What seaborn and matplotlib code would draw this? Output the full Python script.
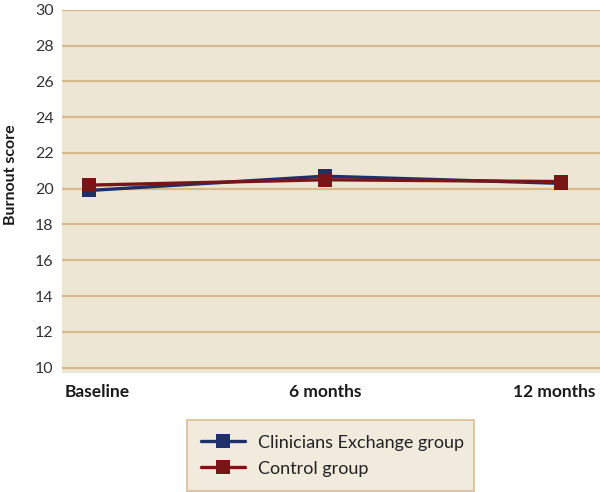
import pandas as pd
import matplotlib
matplotlib.use("Agg")
import matplotlib.pyplot as plt
import matplotlib.transforms as mtransforms
import seaborn as sns

# Values
timepoints = ["Baseline", "6 months", "12 months"]
clinicians_exchange = [19.9, 20.7, 20.3]
control = [20.2, 20.5, 20.4]
groups = ["Clinicians Exchange group", "Control group"]
y_ticks = list(range(10, 31, 2))

df = pd.DataFrame({
    "time": timepoints * 2,
    "score": clinicians_exchange + control,
    "group": [groups[0]] * 3 + [groups[1]] * 3,
})

sns.set_theme(style="white")
plt.rcParams["font.family"] = ["Lato", "DejaVu Sans"]

bg = "#ede6d4"
grid_col = "#dab98b"
palette = {groups[0]: "#1f2f6e", groups[1]: "#7a1517"}

fig = plt.figure(figsize=(6, 4.92), dpi=100)
ax = fig.add_axes([0.103, 0.242, 0.897, 0.738])
ax.set_facecolor(bg)

sns.lineplot(data=df, x="time", y="score", hue="group", hue_order=groups,
             palette=palette, marker="s", markersize=10, markeredgewidth=0,
             linewidth=2.4, sort=False, ax=ax, legend=False)

ax.set_ylim(9.7, 30)
ax.set_xlim(-0.115, 2.165)
ax.set_yticks(y_ticks)
for y in y_ticks:
    ax.axhline(y, color=grid_col, linewidth=1.6, zorder=0)
for s in ax.spines.values():
    s.set_visible(False)

ax.set_xticks(range(len(timepoints)))
ax.set_xticklabels(timepoints, fontsize=12.5, fontweight="bold", color="#1a1a1a")
ax.tick_params(axis="x", length=0, pad=8)
ax.tick_params(axis="y", length=0, pad=6, labelsize=11.5, labelcolor="#333333")
# nudge the outer labels like the original
shifts = [8, 0, -7]
for lab, dx in zip(ax.get_xticklabels(), shifts):
    lab.set_transform(lab.get_transform() +
                      mtransforms.ScaledTranslation(dx / 100, 0, fig.dpi_scale_trans))

ax.set_xlabel("")
ax.set_ylabel("Burnout score", fontsize=11.5, fontweight="bold", color="#1a1a1a")
ax.yaxis.set_label_coords(-0.081, 0.545)

handles = [plt.Line2D([], [], color=palette[g], marker="s", markersize=10,
                      markeredgewidth=0, linewidth=2.4) for g in groups]
leg = fig.legend(handles, groups, loc="lower left",
                 bbox_to_anchor=(187 / 600, 1 / 492, 287 / 600, 75 / 492),
                 mode="expand", borderaxespad=0, frameon=True, fontsize=13,
                 handlelength=2.4, handletextpad=0.75, labelspacing=0.55,
                 borderpad=0.8, fancybox=False)
leg.get_frame().set_facecolor(bg)
leg.get_frame().set_edgecolor(grid_col)
leg.get_frame().set_linewidth(1.4)
for t in leg.get_texts():
    t.set_color("#222222")

fig.savefig("out.png", dpi=100)
